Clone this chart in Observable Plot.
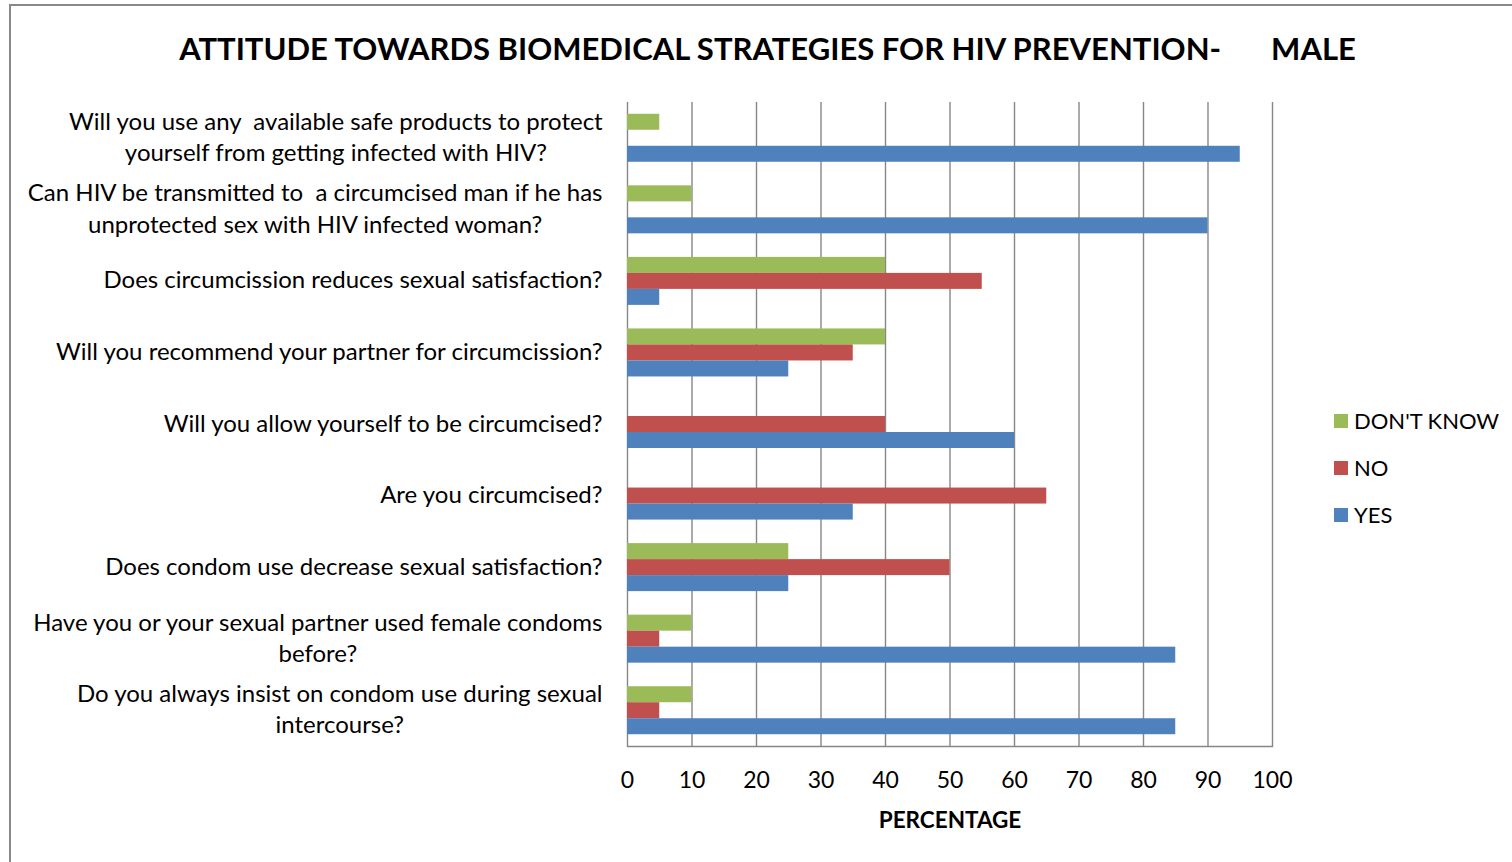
<!DOCTYPE html>
<html><head><meta charset="utf-8">
<script src="https://cdn.jsdelivr.net/npm/d3@7"></script>
<script src="https://cdn.jsdelivr.net/npm/@observablehq/plot@0.6"></script>
<style>
html,body{margin:0;padding:0;background:#fff;overflow:hidden;}
#page{position:relative;width:1512px;height:862px;overflow:hidden;font-family:Lato,"Open Sans",sans-serif;color:#000;}
#border{position:absolute;left:9px;top:4px;width:1700px;height:1000px;border:2px solid #898989;box-sizing:border-box;}
#title{position:absolute;left:0;top:0;width:1535px;height:90px;line-height:96px;text-align:center;font-weight:bold;font-size:31px;white-space:pre;}
#chart{position:absolute;left:0;top:90px;line-height:0;}
#chart svg{display:block;}
#legend{position:absolute;left:1334px;top:397px;}
#legend .lg-swatches{font-family:Lato,sans-serif;font-size:22px;color:#000;margin:0;}
#legend .lg-swatch{height:47px;padding:0 !important;margin:0 !important;display:flex;align-items:center;}
#legend .lg-swatch svg{margin-right:6px !important;}
</style></head>
<body><div id="page"><div id="border"></div><div id="title"></div><div id="chart"></div><div id="legend"></div></div>
<script>
// ---- data ----
const titleMain = "ATTITUDE TOWARDS BIOMEDICAL STRATEGIES FOR HIV PREVENTION-";
const titleTail = "MALE";
const xLabel = "PERCENTAGE";
const questions = [
  "Will you use any  available safe products to protect\nyourself from getting infected with HIV?",
  "Can HIV be transmitted to  a circumcised man if he has\nunprotected sex with HIV infected woman?",
  "Does circumcission reduces sexual satisfaction?",
  "Will you recommend your partner for circumcission?",
  "Will you allow yourself to be circumcised?",
  "Are you circumcised?",
  "Does condom use decrease sexual satisfaction?",
  "Have you or your sexual partner used female condoms\nbefore?",
  "Do you always insist on condom use during sexual\nintercourse?"
];
const series = ["DON'T KNOW", "NO", "YES"];
const dontKnow = [5, 10, 40, 40, 0, 0, 25, 10, 10];
const no       = [0, 0, 55, 35, 40, 65, 50, 5, 5];
const yes      = [95, 90, 5, 25, 60, 35, 25, 85, 85];
const xTicks = [0, 10, 20, 30, 40, 50, 60, 70, 80, 90, 100];
const colors = ["#9BBB59", "#C0504D", "#4F81BD"];

// ---- table ----
const values = [dontKnow, no, yes];
const rows = [];
questions.forEach((q, i) => series.forEach((s, j) => rows.push({question: q, series: s, value: values[j][i]})));

// ---- layout ----
const W = 1512, H = 772;
const mL = 627, mR = 240, mT = 12, mB = 116;
const plotH = H - mT - mB;
const step = plotH / questions.length;
const barH = 16;
const pad0 = (step - series.length * barH) / 2;
const gridColor = "#878787";

const barMarks = series.map((s, j) =>
  Plot.barX(rows.filter(r => r.series === s && r.value > 0), {
    y: "question", x: "value", fill: "series",
    insetTop: pad0 + j * barH,
    insetBottom: step - pad0 - (j + 1) * barH
  })
);

const chart = Plot.plot({
  width: W, height: H,
  marginLeft: mL, marginRight: mR, marginTop: mT, marginBottom: mB,
  style: {fontFamily: "Lato, 'Open Sans', sans-serif", fontSize: "23px", color: "#000", background: "transparent"},
  x: {domain: [0, 100]},
  y: {domain: questions, padding: 0, round: false, axis: null},
  color: {domain: series, range: colors},
  marks: [
    Plot.ruleX(xTicks, {stroke: gridColor, strokeWidth: 1.4}),
    ...barMarks,
    Plot.frame({anchor: "bottom", stroke: gridColor, strokeWidth: 1.4}),
    Plot.axisX(xTicks, {anchor: "bottom", tickSize: 0, tickPadding: 25, fontSize: 23, label: null, tickFormat: d => String(d)}),
    Plot.text(questions, {y: d => d, text: d => d, frameAnchor: "left", textAnchor: "end", dx: -25, dy: -3, fontSize: 24, lineHeight: 1.31, className: "qlabel", fill: "#000"}),
    Plot.text([xLabel], {frameAnchor: "bottom", dy: 81, fontWeight: "bold", fontSize: 22.5, fill: "#000"})
  ]
});
document.getElementById("chart").appendChild(chart);

// center the lines of each label within its right-aligned block
chart.querySelectorAll(".qlabel text").forEach(t => {
  const b = t.getBBox();
  t.setAttribute("text-anchor", "middle");
  const tr = t.getAttribute("transform") || "";
  t.setAttribute("transform", tr + ` translate(${b.x + b.width / 2},0)`);
});

// title
const title = document.getElementById("title");
title.appendChild(document.createTextNode(titleMain));
const tail = document.createElement("span");
tail.style.marginLeft = "50px";
tail.textContent = titleTail;
title.appendChild(tail);

// legend
const leg = Plot.legend({color: {domain: series, range: colors}, legend: "swatches", columns: 1, swatchSize: 14, className: "lg"});
document.getElementById("legend").appendChild(leg);
</script>
</body></html>
